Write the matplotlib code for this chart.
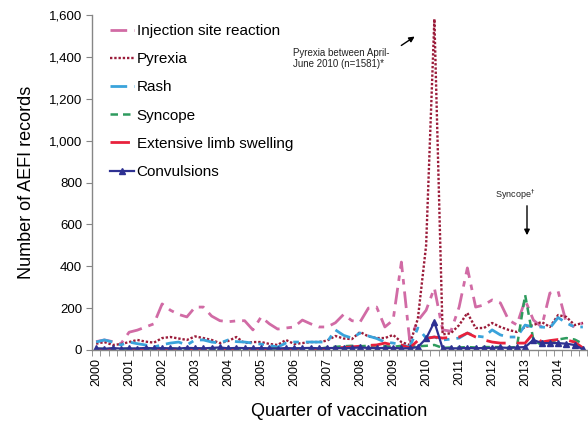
import matplotlib
matplotlib.use("Agg")
import matplotlib.pyplot as plt
from matplotlib.ticker import FuncFormatter, FixedLocator

plt.rcParams['font.family'] = ['Liberation Sans', 'DejaVu Sans']

years = [str(y) for y in range(2000, 2015)]

injection_site = [40, 48, 40, 30,
                  85, 95, 110, 125,
                  220, 190, 170, 158,
                  205, 205, 162, 140,
                  135, 139, 140, 96,
                  158, 125, 100, 105,
                  110, 143, 125, 110,
                  110, 130, 170, 140,
                  134, 200, 205, 110,
                  143, 420, 48, 140,
                  190, 296, 96, 90,
                  205, 392, 205, 215,
                  239, 225, 143, 120,
                  239, 143, 110, 272,
                  280, 129, 110, 130]

pyrexia = [30, 38, 24, 28,
           38, 48, 40, 35,
           57, 62, 55, 48,
           65, 57, 48, 33,
           43, 62, 33, 38,
           38, 29, 24, 48,
           29, 33, 38, 38,
           45, 67, 55, 52,
           86, 65, 57, 57,
           72, 38, 24, 150,
           500, 1581, 75, 80,
           119, 177, 105, 105,
           129, 110, 96, 86,
           110, 119, 134, 110,
           167, 158, 119, 129]

rash = [38, 48, 38, 24,
        38, 30, 24, 14,
        25, 33, 38, 24,
        48, 48, 38, 33,
        48, 40, 38, 33,
        28, 22, 14, 33,
        38, 38, 38, 38,
        38, 96, 70, 57,
        81, 67, 55, 38,
        33, 25, 14, 105,
        57, 62, 48, 52,
        57, 81, 67, 62,
        96, 72, 62, 62,
        119, 110, 110, 105,
        155, 129, 110, 110]

syncope = [5, 6, 4, 5,
           6, 5, 7, 5,
           6, 8, 5, 6,
           7, 5, 6, 8,
           6, 5, 7, 6,
           5, 6, 8, 5,
           6, 7, 5, 6,
           12, 15, 18, 20,
           18, 20, 22, 18,
           15, 20, 14, 18,
           20, 24, 10, 12,
           12, 14, 12, 14,
           14, 14, 12, 14,
           263, 48, 24, 38,
           50, 57, 50, 30]

limb_swelling = [3, 2, 4, 3,
                 2, 3, 4, 2,
                 3, 4, 3, 2,
                 4, 3, 2, 3,
                 3, 4, 3, 4,
                 3, 2, 4, 3,
                 4, 3, 5, 4,
                 8, 10, 12, 15,
                 18, 22, 24, 33,
                 24, 24, 10, 45,
                 55, 62, 57, 60,
                 62, 81, 62, 48,
                 38, 33, 33, 33,
                 33, 80, 38, 45,
                 50, 48, 38, 10]

convulsions = [8, 6, 9, 7,
               8, 7, 10, 8,
               9, 8, 7, 10,
               9, 8, 10, 12,
               8, 10, 9, 8,
               9, 8, 7, 9,
               8, 9, 10, 8,
               9, 10, 8, 10,
               12, 10, 9, 10,
               10, 8, 8, 14,
               55, 134, 8, 8,
               8, 10, 8, 10,
               10, 12, 10, 12,
               14, 48, 33, 33,
               33, 30, 24, 3]

x = list(range(len(pyrexia)))

fig = plt.figure(figsize=(5.88, 4.24), dpi=100)
ax = fig.add_axes([92/588, 1-350/424, 495/588, 335/424])

ax.plot(x, injection_site, color='#D16BA5', lw=2.0, dashes=(6, 2.5, 2, 2.5),
        label='Injection site reaction')
ax.plot(x, pyrexia, color='#9B1C3A', lw=1.7, linestyle=(0, (1, 0.8)),
        label='Pyrexia')
ax.plot(x, rash, color='#3AA3DB', lw=2.0, dashes=(6, 2.5, 2, 2.5),
        label='Rash')
ax.plot(x, syncope, color='#2E9B5E', lw=1.8, dashes=(3, 2),
        label='Syncope')
ax.plot(x, limb_swelling, color='#E8213C', lw=2.0, dashes=(7, 4),
        label='Extensive limb swelling')
ax.plot(x, convulsions, color='#2E3192', lw=1.6, marker='^', markersize=5,
        label='Convulsions')

ax.set_xlim(-0.5, len(x) - 0.5)
ax.set_ylim(0, 1600)
ax.set_yticks(range(0, 1601, 200))
ax.yaxis.set_major_formatter(FuncFormatter(lambda v, p: f'{int(v):,}'))

ax.xaxis.set_major_locator(FixedLocator([i * 4 for i in range(len(years))]))
ax.set_xticklabels(years, rotation=90, fontsize=9)
ax.xaxis.set_minor_locator(FixedLocator([i - 0.5 for i in range(len(x) + 1)]))
ax.tick_params(axis='x', which='major', length=0, pad=6)
ax.tick_params(axis='x', which='minor', length=4, color='#868686', direction='out')
ax.tick_params(axis='y', length=4, color='#868686', labelsize=9.5, pad=3)

for s in ['top', 'right']:
    ax.spines[s].set_visible(False)
for s in ['left', 'bottom']:
    ax.spines[s].set_color('#868686')
    ax.spines[s].set_linewidth(1.0)

ax.set_ylabel('Number of AEFI records', fontsize=13, labelpad=10)
ax.set_xlabel('Quarter of vaccination', fontsize=13, labelpad=12)

leg = fig.legend(loc='upper left', bbox_to_anchor=(110/588, 1-24/424),
                 frameon=False, fontsize=11, handlelength=1.6,
                 handletextpad=0.15, labelspacing=0.93, borderpad=0,
                 borderaxespad=0, numpoints=1)

ax.annotate('', xy=(417, 424-35), xycoords='figure pixels',
            xytext=(399, 424-47), textcoords='figure pixels',
            arrowprops=dict(arrowstyle='-|>', color='black', lw=1.0,
                            mutation_scale=8))
fig.text(293/588, 1-48/424, 'Pyrexia between April-\nJune 2010 (n=1581)*',
         fontsize=7, va='top', ha='left', linespacing=1.1, color='#222222')

fig.text(515/588, 1-195/424, 'Syncope$^{\\dagger}$', fontsize=6.5,
         ha='center', va='center', color='#222222')
ax.annotate('', xy=(527, 424-238), xycoords='figure pixels',
            xytext=(527, 424-203), textcoords='figure pixels',
            arrowprops=dict(arrowstyle='-|>', color='black', lw=1.0,
                            mutation_scale=8))

fig.savefig('out.png', dpi=100)
